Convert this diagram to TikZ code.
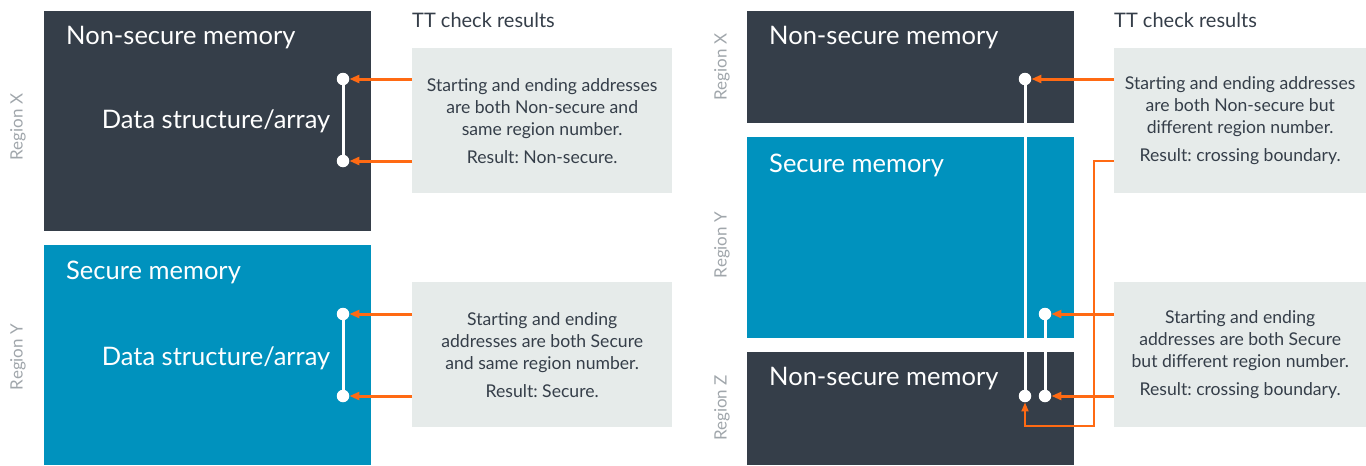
\documentclass[tikz,border=0pt]{standalone}
\usepackage{fontspec}
\setmainfont{Lato}
\frenchspacing
\usetikzlibrary{arrows.meta}
\definecolor{nsdark}{HTML}{353E49}
\definecolor{secblue}{HTML}{0092BE}
\definecolor{notegray}{HTML}{E6EBEA}
\definecolor{linkorange}{HTML}{FF6A13}
\definecolor{labelgray}{HTML}{A0A6AB}
\tikzset{
  membox/.style 2 args={anchor=north west, inner sep=0pt, draw=none,
    fill=#1, minimum width=327pt, minimum height=#2},
  memtitle/.style={anchor=west, text=white, inner sep=0pt,
    font=\fontsize{25.5}{30}\selectfont},
  datalabel/.style={text=white, inner sep=0pt, font=\fontsize{25.5}{30}\selectfont},
  regionlabel/.style={rotate=90, text=labelgray, inner sep=0pt,
    font=\fontsize{17}{20}\selectfont},
  heading/.style={anchor=west, text=nsdark, inner sep=0pt,
    font=\fontsize{20}{24}\selectfont},
  notebox/.style={anchor=north west, fill=notegray, inner sep=0pt,
    minimum width=#1, minimum height=145pt, align=center, text=nsdark,
    font=\fontsize{17.6}{22}\selectfont},
  dot/.style={circle, fill=white, inner sep=0pt, minimum size=12.5pt},
  span/.style={white, line width=3pt},
  pointer/.style={linkorange, line width=3pt,
    -{Triangle[length=10pt,width=8pt]}},
  thinpointer/.style={linkorange, line width=1.8pt,
    -{Triangle[length=9pt,width=7pt]}}
}
\begin{document}
\begin{tikzpicture}[x=1pt,y=-1pt]
\useasboundingbox (0,0) rectangle (1366,466);

% ---------- single region per data structure ----------
\node[membox={nsdark}{220pt}] (nsA) at (44,11) {};
\node[membox={secblue}{220pt}] (secA) at (44,245) {};
\node[memtitle] (nsAtitle) at (66,38) {Non-secure memory};
\node[memtitle] (secAtitle) at (66,272) {Secure memory};
\node[datalabel] (dsA) at (216,121) {Data structure/array};
\node[datalabel] (dsB) at (216,358) {Data structure/array};
\node[regionlabel] (rxA) at (18,127) {Region X};
\node[regionlabel] (ryA) at (18,357) {Region Y};

\node[heading] (headA) at (412,20) {TT check results};
\node[notebox=260pt] (noteA) at (412,48)
  {Starting and ending addresses\\are both Non-secure and\\same region number.\\[6pt]Result: Non-secure.};
\node[notebox=260pt] (noteB) at (412,282)
  {Starting and ending\\addresses are both Secure\\and same region number.\\[6pt]Result: Secure.};

\node[dot] (a1) at (343,79) {};
\node[dot] (a2) at (343,161) {};
\node[dot] (b1) at (343,314) {};
\node[dot] (b2) at (343,396) {};
\draw[span] (a1) -- (a2);
\draw[span] (b1) -- (b2);
\draw[pointer] (a1 -| noteA.west) -- (a1);
\draw[pointer] (a2 -| noteA.west) -- (a2);
\draw[pointer] (b1 -| noteB.west) -- (b1);
\draw[pointer] (b2 -| noteB.west) -- (b2);

% ---------- data structures crossing region boundaries ----------
\node[membox={nsdark}{112pt}] (nsX) at (747,11) {};
\node[membox={secblue}{201pt}] (secY) at (747,137) {};
\node[membox={nsdark}{113pt}] (nsZ) at (747,352) {};
\node[memtitle] (nsXtitle) at (769,38) {Non-secure memory};
\node[memtitle] (secYtitle) at (769,165) {Secure memory};
\node[memtitle] (nsZtitle) at (769,379) {Non-secure memory};
\node[regionlabel] (rxB) at (722,67) {Region X};
\node[regionlabel] (ryB) at (722,245) {Region Y};
\node[regionlabel] (rzB) at (722,408) {Region Z};

\node[heading] (headB) at (1114,20) {TT check results};
\node[notebox=252pt] (noteC) at (1114,48)
  {Starting and ending addresses\\are both Non-secure but\\different region number.\\[6pt]Result: crossing boundary.};
\node[notebox=252pt] (noteD) at (1114,282)
  {Starting and ending\\addresses are both Secure\\but different region number.\\[6pt]Result: crossing boundary.};

\node[dot] (c1) at (1025,79) {};
\node[dot] (c2) at (1025,396) {};
\node[dot] (d1) at (1045,314) {};
\node[dot] (d2) at (1045,396) {};
\draw[span] (c1) -- (c2);
\draw[span] (d1) -- (d2);

\coordinate (cStart) at (1114,161);
\coordinate (cBendA) at (1094,161);
\coordinate (cBendB) at (1094,426);
\coordinate (cBendC) at (1025,426);
\draw[thinpointer] (cStart) -- (cBendA) -- (cBendB) -- (cBendC) -- (c2);

\draw[pointer] (c1 -| noteC.west) -- (c1);
\draw[pointer] (d1 -| noteD.west) -- (d1);
\draw[pointer] (d2 -| noteD.west) -- (d2);
\end{tikzpicture}
\end{document}
